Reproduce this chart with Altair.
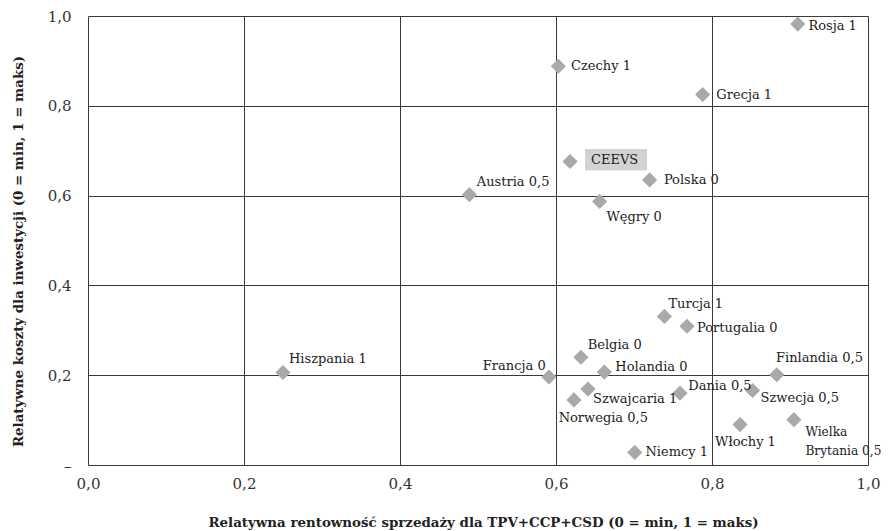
import altair as alt
import pandas as pd

# ---- data ----
labels = ["Rosja 1", "Czechy 1", "Grecja 1", "Polska 0", "Austria 0,5", "Węgry 0",
          "Hiszpania 1", "Turcja 1", "Portugalia 0", "Belgia 0", "Francja 0",
          "Holandia 0", "Finlandia 0,5", "Dania 0,5", "Szwecja 0,5", "Szwajcaria 1",
          "Norwegia 0,5", "Wielka\nBrytania 0,5", "Włochy 1", "Niemcy 1"]
rentownosc = [0.910, 0.603, 0.788, 0.720, 0.489, 0.656,
              0.250, 0.739, 0.768, 0.632, 0.591,
              0.662, 0.883, 0.759, 0.852, 0.641,
              0.623, 0.905, 0.836, 0.701]
koszty = [0.982, 0.888, 0.825, 0.635, 0.602, 0.587,
          0.206, 0.331, 0.309, 0.240, 0.196,
          0.207, 0.201, 0.160, 0.166, 0.169,
          0.145, 0.101, 0.090, 0.028]

ceevs_label = ["CEEVS"]
ceevs_x = [0.618]
ceevs_y = [0.676]

ticks = [0.0, 0.2, 0.4, 0.6, 0.8, 1.0]

# ---- label placement (style, kept apart from data) ----
label_offsets = {
    "Rosja 1": (10.6, 2), "Czechy 1": (12.7, 0), "Grecja 1": (13.7, 0),
    "Polska 0": (14.3, 0), "Austria 0,5": (7.4, -12.3), "Węgry 0": (6.7, 15.6),
    "Hiszpania 1": (6, -13.4), "Turcja 1": (4, -12.4), "Portugalia 0": (10, 1.6),
    "Belgia 0": (6.7, -12.3), "Francja 0": (-3.3, -11.3), "Holandia 0": (11, -5),
    "Finlandia 0,5": (-0.7, -16.7), "Dania 0,5": (8.3, -7.3), "Szwecja 0,5": (8, 7.6),
    "Szwajcaria 1": (5, 10), "Norwegia 0,5": (-15.3, 18.3),
    "Wielka\nBrytania 0,5": (11.5, 12), "Włochy 1": (-25, 17.7), "Niemcy 1": (10.7, 0),
}
right_aligned = {"Francja 0"}
small_labels = {"Wielka\nBrytania 0,5": 12.2}

df = pd.DataFrame({"label": labels, "x": rentownosc, "y": koszty})
ceevs = pd.DataFrame({"label": ceevs_label, "x": ceevs_x, "y": ceevs_y})

FONT = "DejaVu Serif"
GRID = "#3a3a3a"
POINT = "#a9a9a9"
LABEL_SIZE = 13

xscale = alt.Scale(domain=[0, 1], nice=False, zero=False)
yscale = alt.Scale(domain=[0, 1], nice=False, zero=False)

x_axis = alt.Axis(
    values=ticks, grid=True, gridColor=GRID, gridWidth=1, gridOpacity=1,
    domain=False, ticks=False, labelPadding=11, labelFontSize=15,
    labelFont=FONT, labelColor="#333", labelFlush=False,
    labelExpr="replace(format(datum.value, '.1f'), '.', ',')",
    title="Relatywna rentowność sprzedaży dla TPV+CCP+CSD (0 = min, 1 = maks)",
    titleFont=FONT, titleFontSize=13.4, titleFontWeight="bold", titleColor="#222",
    titleX=395, titleY=57.5, titleBaseline="middle", titleAlign="center",
)
y_axis = alt.Axis(
    values=ticks, grid=True, gridColor=GRID, gridWidth=1, gridOpacity=1,
    domain=False, ticks=False, labelPadding=17, labelFontSize=15,
    labelFont=FONT, labelColor="#333", labelFlush=False,
    labelExpr="datum.value == 0 ? '–' : replace(format(datum.value, '.1f'), '.', ',')",
    title="Relatywne koszty dla inwestycji (0 = min, 1 = maks)",
    titleFont=FONT, titleFontSize=13.4, titleFontWeight="bold", titleColor="#222",
    titleX=-70, titleY=235, titleBaseline="middle", titleAlign="center", titleAngle=270,
)

base = alt.Chart(df)

points = base.mark_point(shape="diamond", filled=True, size=230, color=POINT, opacity=1).encode(
    x=alt.X("x:Q", scale=xscale, axis=x_axis),
    y=alt.Y("y:Q", scale=yscale, axis=y_axis),
)

text_layers = []
for lab in labels:
    dx, dy = label_offsets[lab]
    text_layers.append(
        base.transform_filter(alt.datum.label == lab).mark_text(
            align="right" if lab in right_aligned else "left", baseline="middle",
            font=FONT, fontSize=small_labels.get(lab, LABEL_SIZE), color="#222",
            lineBreak="\n", lineHeight=19, dx=dx, dy=dy,
        ).encode(
            x=alt.X("x:Q", scale=xscale), y=alt.Y("y:Q", scale=yscale),
            text="label:N",
        )
    )

cbase = alt.Chart(ceevs)
c_box = cbase.mark_rect(color="#d3d3d3", xOffset=15, x2Offset=77, yOffset=-12.4, y2Offset=9).encode(
    x=alt.X("x:Q", scale=xscale), x2="x:Q",
    y=alt.Y("y:Q", scale=yscale), y2="y:Q",
)
c_point = cbase.mark_point(shape="diamond", filled=True, size=230, color=POINT, opacity=1).encode(
    x=alt.X("x:Q", scale=xscale), y=alt.Y("y:Q", scale=yscale),
)
c_text = cbase.mark_text(align="left", baseline="middle", font=FONT, fontSize=LABEL_SIZE,
                         color="#222", dx=21, dy=-1.7).encode(
    x=alt.X("x:Q", scale=xscale), y=alt.Y("y:Q", scale=yscale), text="label:N",
)

chart = alt.layer(points, c_box, c_point, c_text, *text_layers).properties(
    width=780, height=449,
    autosize=alt.AutoSizeParams(type="none"),
    padding={"left": 80, "top": 8, "right": 13, "bottom": 65},
).configure_view(stroke=GRID, strokeWidth=1.2).configure(background="white")

chart.save("out.html", embed_options={"renderer": "svg", "actions": False})
